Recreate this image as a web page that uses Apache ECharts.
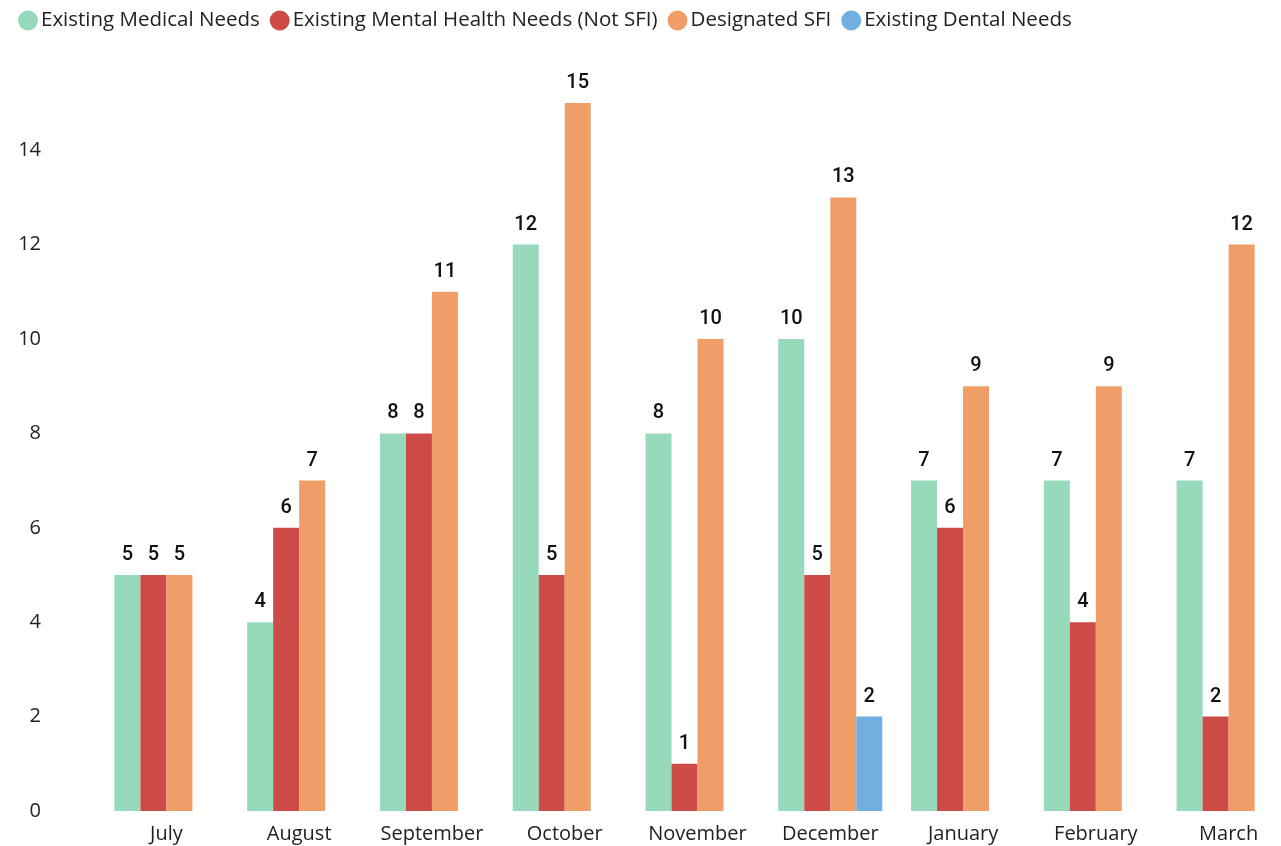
<!DOCTYPE html>
<html>
<head>
<meta charset="utf-8">
<script src="https://cdn.jsdelivr.net/npm/echarts@6/dist/echarts.min.js"></script>
<style>html,body{margin:0;padding:0;background:#fff;}#c{width:1281px;height:846px;}</style>
</head>
<body>
<div id="c"></div>
<script>
const categories = ['July','August','September','October','November','December','January','February','March'];
const medical = [5,4,8,12,8,10,7,7,7];
const mental = [5,6,8,5,1,5,6,4,2];
const sfi = [5,7,11,15,10,13,9,9,12];
const dental = [null,null,null,null,null,2,null,null,null];
const seriesNames = ['Existing Medical Needs','Existing Mental Health Needs (Not SFI)','Designated SFI','Existing Dental Needs'];
const colors = ['#96dabb','#cd4b47','#ee9e66','#70afe0'];

const chart = echarts.init(document.getElementById('c'), null, {renderer:'canvas'});
const labelStyle = {show:true, position:'top', distance:10, fontFamily:'Roboto', fontWeight:500, fontSize:20, color:'#111'};
function mk(name, data, i){
  return {name, type:'bar', data, barWidth:26, barGap:'0%', itemStyle:{color:colors[i]}, label:labelStyle};
}
chart.setOption({
  animation:false,
  color:colors,
  textStyle:{fontFamily:'Open Sans'},
  legend:{left:18, top:10, padding:0, itemWidth:20, itemHeight:20, itemGap:10, icon:'circle',
    textStyle:{fontFamily:'Open Sans', fontSize:20.5, color:'#222', padding:[0,0,0,-2]}},
  grid:{left:100, width:1195, top:103, bottom:35, containLabel:false, outerBoundsMode:'none'},
  xAxis:{type:'category', data:categories, axisLine:{show:false}, axisTick:{show:false},
    axisLabel:{fontFamily:'Open Sans', fontSize:20, color:'#222', margin:13, interval:0}},
  yAxis:{type:'value', min:0, max:15, interval:2, splitLine:{show:false}, axisLine:{show:false}, axisTick:{show:false},
    axisLabel:{fontFamily:'Open Sans', fontSize:20, color:'#222', margin:59, showMaxLabel:false}},
  series:[mk(seriesNames[0],medical,0), mk(seriesNames[1],mental,1), mk(seriesNames[2],sfi,2), mk(seriesNames[3],dental,3)]
});
</script>
</body>
</html>
